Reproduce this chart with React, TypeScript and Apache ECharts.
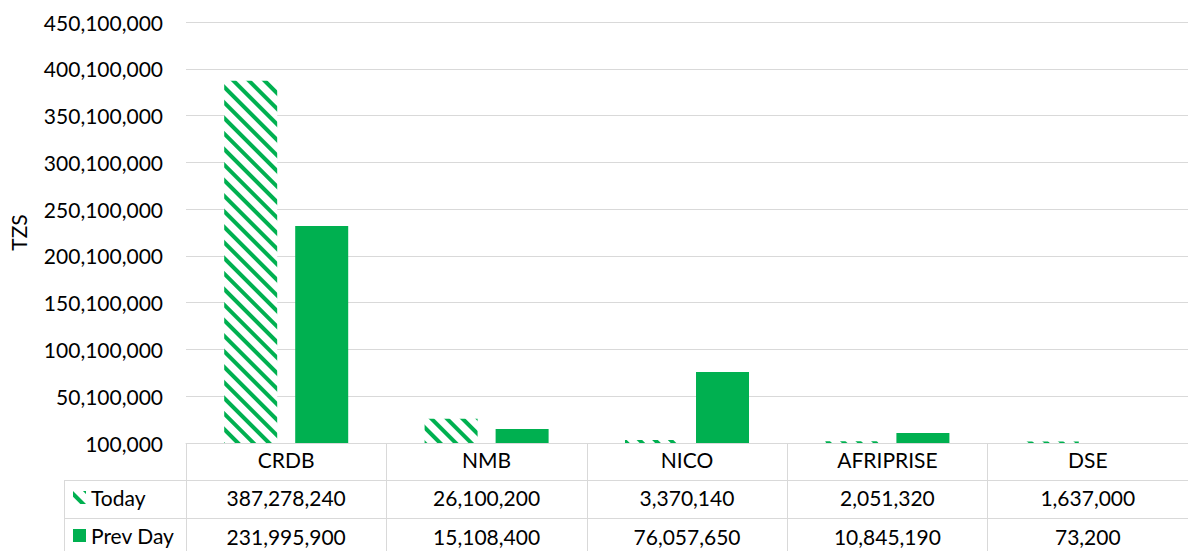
import React, { useEffect, useRef } from 'react';
import * as echarts from 'echarts';

const categories = ['CRDB', 'NMB', 'NICO', 'AFRIPRISE', 'DSE'];
const seriesNames = ['Today', 'Prev Day'];
const todayValues = [387278240, 26100200, 3370140, 2051320, 1637000];
const prevDayValues = [231995900, 15108400, 76057650, 10845190, 73200];
const yMin = 100000;
const yMax = 450100000;
const yStep = 50000000;
const yAxisTitle = 'TZS';

const GREEN = '#00B050';
const LINE = '#D9D9D9';
const FONT = 'Lato, "Noto Sans", sans-serif';
const fmt = (v: number) => v.toLocaleString('en-US');

export default function App() {
  const ref = useRef<HTMLDivElement>(null);
  useEffect(() => {
    const chart = echarts.init(ref.current!, null, { renderer: 'svg' });
    const label = { fontFamily: FONT, fontSize: 21, color: '#000' };
    const tableX = (data: string[], offset: number, margin: number) => ({
      type: 'category',
      data,
      gridIndex: 0,
      position: 'bottom',
      offset,
      axisLine: { show: false },
      axisTick: { show: false },
      splitLine: { show: false },
      axisLabel: { ...label, margin, interval: 0 },
    });
    const legendAt = (name: string, top: number) => ({
      orient: 'horizontal',
      left: 68,
      top,
      itemWidth: 13,
      itemHeight: 13,
      icon: 'rect',
      textStyle: { ...label },
      data: [name],
    });
    chart.setOption({
      animation: false,
      backgroundColor: '#fff',
      textStyle: { fontFamily: FONT },
      grid: { left: 185, top: 22, width: 1005, height: 421, containLabel: false },
      legend: [legendAt(seriesNames[0], 482), legendAt(seriesNames[1], 520)],
      xAxis: [
        {
          type: 'category',
          data: categories,
          axisLine: { show: true, lineStyle: { color: LINE, width: 1 } },
          axisTick: { show: true, length: 108, lineStyle: { color: LINE, width: 1 } },
          axisLabel: { ...label, margin: 6, interval: 0 },
          splitLine: { show: false },
        },
        tableX(todayValues.map(fmt), 37, 7),
        tableX(prevDayValues.map(fmt), 75, 8),
      ],
      yAxis: {
        type: 'value',
        min: yMin,
        max: yMax,
        interval: yStep,
        axisLine: { show: false },
        axisTick: { show: false },
        splitLine: { lineStyle: { color: LINE, width: 1 } },
        axisLabel: { ...label, margin: 23, formatter: (v: number) => fmt(v) },
        name: yAxisTitle,
        nameLocation: 'middle',
        nameRotate: 90,
        nameGap: 157,
        nameTextStyle: { ...label },
      },
      series: [
        {
          name: seriesNames[0],
          type: 'bar',
          data: todayValues,
          barWidth: 53,
          barGap: '34%',
          itemStyle: {
            color: '#fff',
            decal: {
              symbol: 'rect',
              symbolSize: 1,
              color: GREEN,
              dashArrayX: [1, 0],
              dashArrayY: [4, 7],
              rotation: Math.PI / 4,
            },
          },
        },
        {
          name: seriesNames[1],
          type: 'bar',
          data: prevDayValues,
          barWidth: 53,
          barGap: '34%',
          itemStyle: { color: GREEN },
        },
      ],
      graphic: [
        { type: 'line', shape: { x1: 64, y1: 480.5, x2: 1190, y2: 480.5 }, style: { stroke: LINE, lineWidth: 1 } },
        { type: 'line', shape: { x1: 64, y1: 518.5, x2: 1190, y2: 518.5 }, style: { stroke: LINE, lineWidth: 1 } },
        { type: 'line', shape: { x1: 64.5, y1: 480, x2: 64.5, y2: 551 }, style: { stroke: LINE, lineWidth: 1 } },
      ],
    });
    return () => chart.dispose();
  }, []);
  return <div ref={ref} style={{ position: 'absolute', left: 0, top: 0, width: 1188, height: 551 }} />;
}
